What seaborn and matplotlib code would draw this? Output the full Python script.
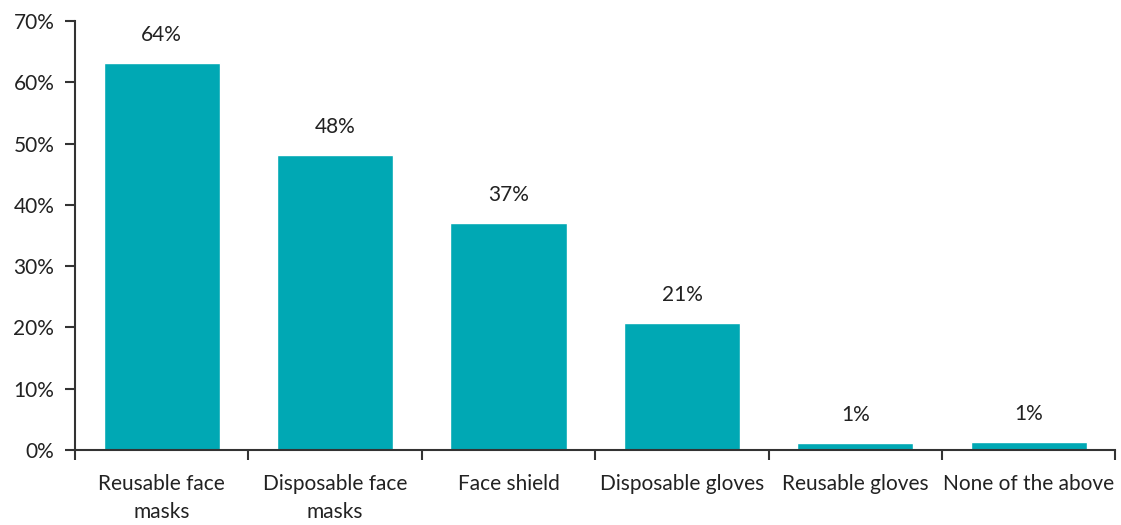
import matplotlib
matplotlib.use('Agg')
import matplotlib.pyplot as plt
import seaborn as sns
import pandas as pd
from matplotlib.ticker import FixedLocator, PercentFormatter

# Chart data
categories = ['Reusable face\nmasks', 'Disposable face\nmasks', 'Face shield',
              'Disposable gloves', 'Reusable gloves', 'None of the above']
values = [63.2, 48.1, 37.0, 20.7, 1.1, 1.3]
value_labels = ['64%', '48%', '37%', '21%', '1%', '1%']

df = pd.DataFrame({'item': categories, 'share': values})

sns.set_style('ticks')
plt.rcParams['font.family'] = ['Lato', 'DejaVu Sans']

fig = plt.figure(figsize=(11.21, 5.25), dpi=100)
ax = fig.add_axes([0.067, 0.143, 0.928, 0.817])

sns.barplot(data=df, x='item', y='share', color='#00A8B4', saturation=1,
            width=0.67, ax=ax)

for i, (v, lab) in enumerate(zip(values, value_labels)):
    ax.annotate(lab, (i, v), xytext=(0, 13), textcoords='offset points',
                ha='center', va='bottom', fontsize=15, color='#222222')

ax.set_ylim(0, 70)
ax.set_xlim(-0.5, len(categories) - 0.5)
ax.yaxis.set_major_formatter(PercentFormatter(decimals=0))
ax.set_yticks(range(0, 71, 10))

ax.xaxis.set_minor_locator(FixedLocator([i - 0.5 for i in range(len(categories) + 1)]))
ax.tick_params(axis='x', which='major', bottom=True, length=0, pad=17, labelsize=15, colors='#222222')
ax.tick_params(axis='x', which='minor', bottom=True, length=7, width=1.5, color='#333333', direction='out')
ax.tick_params(axis='y', left=True, length=7, width=1.5, color='#333333', direction='out',
               labelsize=15, labelcolor='#222222', pad=8)
for lab in ax.get_xticklabels():
    lab.set_linespacing(1.5)

ax.set_xlabel('')
ax.set_ylabel('')
sns.despine(ax=ax, top=True, right=True)
for side in ['left', 'bottom']:
    ax.spines[side].set_color('#333333')
    ax.spines[side].set_linewidth(1.5)

fig.savefig('out.png', dpi=100)
